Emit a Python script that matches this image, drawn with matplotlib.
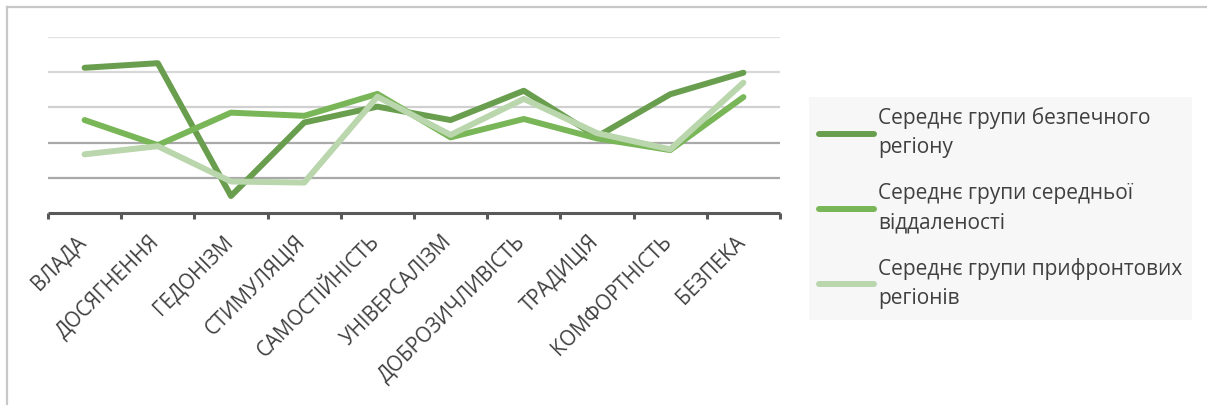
import matplotlib
matplotlib.use("Agg")
import matplotlib.pyplot as plt
from matplotlib.lines import Line2D
from matplotlib.transforms import ScaledTranslation

plt.rcParams['font.family'] = ['Open Sans', 'DejaVu Sans']

categories = ["ВЛАДА", "ДОСЯГНЕННЯ", "ГЕДОНІЗМ", "СТИМУЛЯЦІЯ", "САМОСТІЙНІСТЬ",
              "УНІВЕРСАЛІЗМ", "ДОБРОЗИЧЛИВІСТЬ", "ТРАДИЦІЯ", "КОМФОРТНІСТЬ", "БЕЗПЕКА"]

safe_region = [4.12, 4.25, 0.49, 2.57, 3.02, 2.64, 3.47, 2.17, 3.37, 3.98]
middle_distance = [2.64, 1.93, 2.85, 2.76, 3.38, 2.15, 2.67, 2.12, 1.79, 3.29]
frontline_regions = [1.67, 1.90, 0.90, 0.87, 3.30, 2.22, 3.24, 2.27, 1.81, 3.70]

series_labels = ["Середнє групи безпечного\nрегіону",
                 "Середнє групи середньої\nвіддаленості",
                 "Середнє групи прифронтових\nрегіонів"]
series_colors = ["#6a9e4f", "#79b657", "#b9d6ac"]

W, H = 1207, 405
fig = plt.figure(figsize=(W / 100, H / 100), dpi=100)
fig.patch.set_facecolor("white")

# outer chart frame (top and left edges visible)
fig.add_artist(Line2D([7 / W, 7 / W], [0, 1 - 7 / H], color="#c8c8c8", lw=1.6))
fig.add_artist(Line2D([7 / W, 1], [1 - 7 / H, 1 - 7 / H], color="#c8c8c8", lw=1.6))

ax_left, ax_right = 48 / W, 780 / W
ax_bottom, ax_top = (H - 213.3) / H, (H - 36.7) / H
ax = fig.add_axes([ax_left, ax_bottom, ax_right - ax_left, ax_top - ax_bottom])
ax.set_facecolor("none")

x = list(range(len(categories)))
ax.set_xlim(-0.5, len(categories) - 0.5)
ax.set_ylim(0, 5)

grid_colors = ["#a9a9a9", "#a9a9a9", "#d0d0d0", "#d8d8d8", "#e2e2e2"]
for level, gc in zip([1, 2, 3, 4, 5], grid_colors):
    ax.axhline(level, color=gc, lw=1.6, zorder=1)

handles = []
for vals, col, lab in zip([safe_region, middle_distance, frontline_regions], series_colors, series_labels):
    ln, = ax.plot(x, vals, color=col, lw=4.3, solid_capstyle="round",
                  solid_joinstyle="round", label=lab, zorder=3)
    handles.append(ln)

for side in ["top", "right", "left"]:
    ax.spines[side].set_visible(False)
ax.spines["bottom"].set_color("#595959")
ax.spines["bottom"].set_linewidth(2.2)
ax.spines["bottom"].set_capstyle("butt")

ax.set_yticks([])
ax.set_xticks(x)
ax.set_xticklabels(categories, rotation=45, ha="right", va="top",
                   rotation_mode="default", fontsize=14.8, color="#404040")
ax.tick_params(axis="x", which="major", length=0, pad=13)
shift = ScaledTranslation(6 / 100, 0, fig.dpi_scale_trans)
for lbl in ax.get_xticklabels():
    lbl.set_transform(lbl.get_transform() + shift)
ax.set_xticks([i - 0.5 for i in range(len(categories) + 1)], minor=True)
ax.tick_params(axis="x", which="minor", length=4, width=2.2, color="#595959", direction="out")

leg = fig.legend(handles=handles, labels=series_labels,
                 loc="upper left", bbox_to_anchor=(809 / W, 1 - 97 / H),
                 frameon=True, facecolor="#f7f7f7", edgecolor="none", framealpha=1,
                 fancybox=False, fontsize=15, handlelength=2.6, handletextpad=0.2,
                 labelspacing=1.2, borderpad=0.5, borderaxespad=0)
for t in leg.get_texts():
    t.set_color("#404040")
    t.set_linespacing(1.5)

fig.savefig("out.png", dpi=100)
